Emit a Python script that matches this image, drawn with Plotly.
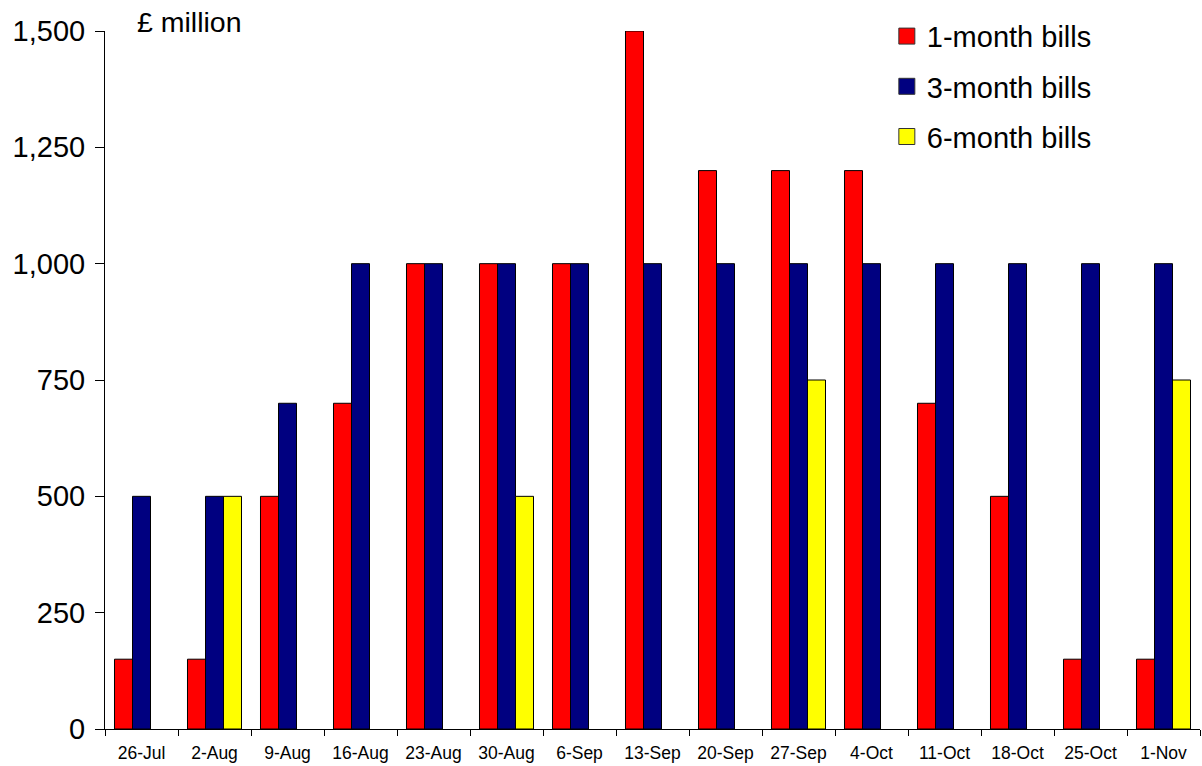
import plotly.graph_objects as go

categories = ["26-Jul", "2-Aug", "9-Aug", "16-Aug", "23-Aug", "30-Aug", "6-Sep",
              "13-Sep", "20-Sep", "27-Sep", "4-Oct", "11-Oct", "18-Oct", "25-Oct", "1-Nov"]
one_month = [150, 150, 500, 700, 1000, 1000, 1000, 1500, 1200, 1200, 1200, 700, 500, 150, 150]
three_month = [500, 500, 700, 1000, 1000, 1000, 1000, 1000, 1000, 1000, 1000, 1000, 1000, 1000, 1000]
six_month = [None, 500, None, None, None, 500, None, None, None, 750, None, None, None, None, 750]
y_ticks = [0, 250, 500, 750, 1000, 1250, 1500]
y_tick_labels = ["0", "250", "500", "750", "1,000", "1,250", "1,500"]

FONT = "Arial, Liberation Sans, sans-serif"

fig = go.Figure()
series = [("1-month bills", one_month, "#FF0000"),
          ("3-month bills", three_month, "#000080"),
          ("6-month bills", six_month, "#FFFF00")]
for i, (name, vals, col) in enumerate(series):
    fig.add_trace(go.Bar(x=categories, y=vals, name=name, legendgroup=f"g{i}",
                         showlegend=False,
                         marker=dict(color=col, line=dict(color="black", width=1))))
for i, (name, vals, col) in enumerate(series):
    # legend swatch (larger square like the original)
    fig.add_trace(go.Scatter(x=[None], y=[None], name=name, legendgroup=f"g{i}",
                             mode="markers", showlegend=True, hoverinfo="skip",
                             marker=dict(symbol="square", size=16, color=col,
                                         line=dict(color="#333333", width=1))))

fig.update_layout(
    width=1202, height=766,
    margin=dict(l=105, r=2, t=31, b=37),
    paper_bgcolor="white", plot_bgcolor="white",
    barmode="group", bargap=0.26, bargroupgap=0,
    font=dict(family=FONT, color="black"),
    showlegend=True,
    legend=dict(x=0.714, y=1.029, xanchor="left", yanchor="top",
                font=dict(size=29, family=FONT), tracegroupgap=9.5,
                traceorder="grouped", itemsizing="trace",
                bgcolor="rgba(0,0,0,0)"),
    annotations=[dict(text="£ million", xref="paper", yref="paper", x=0.027, y=1.013,
                      xanchor="left", yanchor="middle", showarrow=False,
                      font=dict(size=28.5, family=FONT))],
)
fig.update_xaxes(showline=True, linecolor="black", linewidth=1, ticks="outside",
                 tickson="boundaries", ticklen=6, tickcolor="black",
                 tickfont=dict(size=17.5, family=FONT), showgrid=False,
                 ticklabelstandoff=8)
fig.update_yaxes(range=[0, 1500], tickvals=y_ticks, ticktext=y_tick_labels,
                 showline=True, linecolor="black", linewidth=1, ticks="outside",
                 ticklen=9, tickcolor="black", showgrid=False, zeroline=False,
                 tickfont=dict(size=29, family=FONT), ticklabelstandoff=4)

fig.write_html("out.html")
